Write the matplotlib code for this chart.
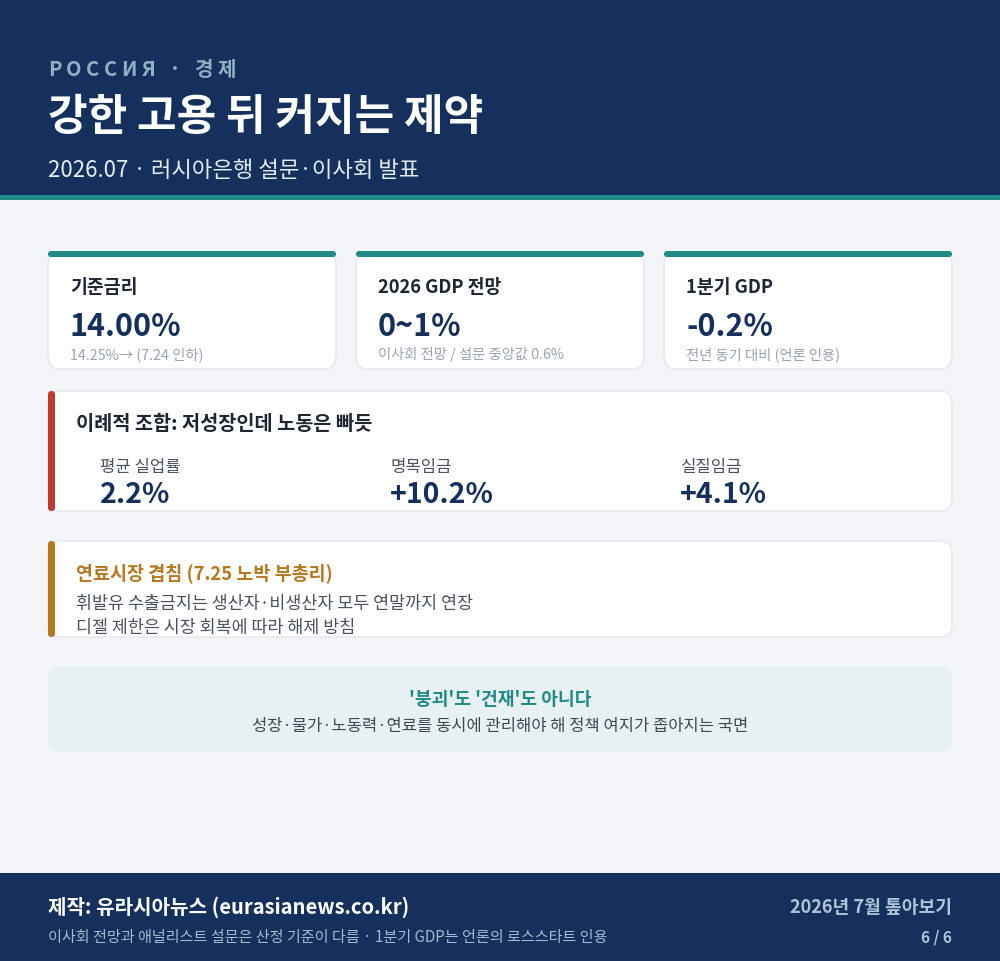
import matplotlib
matplotlib.use("Agg")
import matplotlib.pyplot as plt
from matplotlib.patches import FancyBboxPatch, Rectangle

plt.rcParams['font.family'] = ['Noto Sans CJK KR', 'DejaVu Sans']

# 데이터
kicker = "РОССИЯ · 경제"
title = "강한 고용 뒤 커지는 제약"
subtitle = "2026.07 · 러시아은행 설문·이사회 발표"

kpi_labels = ["기준금리", "2026 GDP 전망", "1분기 GDP"]
kpi_values = ["14.00%", "0~1%", "-0.2%"]
kpi_notes = ["14.25%→ (7.24 인하)", "이사회 전망 / 설문 중앙값 0.6%", "전년 동기 대비 (언론 인용)"]

labor_title = "이례적 조합: 저성장인데 노동은 빠듯"
labor_labels = ["평균 실업률", "명목임금", "실질임금"]
labor_values = ["2.2%", "+10.2%", "+4.1%"]

fuel_title = "연료시장 겹침 (7.25 노박 부총리)"
fuel_lines = ["휘발유 수출금지는 생산자·비생산자 모두 연말까지 연장",
              "디젤 제한은 시장 회복에 따라 해제 방침"]

callout_title = "'붕괴'도 '건재'도 아니다"
callout_text = "성장·물가·노동력·연료를 동시에 관리해야 해 정책 여지가 좁아지는 국면"

footer_left = "제작: 유라시아뉴스 (eurasianews.co.kr)"
footer_note = "이사회 전망과 애널리스트 설문은 산정 기준이 다름 · 1분기 GDP는 언론의 로스스타트 인용"
footer_right = "2026년 7월 톺아보기"
footer_page = "6 / 6"

# 색상
NAVY = "#15305c"
TEAL = "#1f8a87"
BG = "#f3f5f9"
INK = "#1e2533"
GREY = "#9aa3b2"
BODY = "#4a5260"

W, H = 1000, 962
DY = 2.5  # 글자 세로 보정
fig = plt.figure(figsize=(W / 100, H / 100), dpi=100)
ax = fig.add_axes([0, 0, 1, 1])
ax.set_xlim(0, W)
ax.set_ylim(H, 0)
ax.axis('off')
fig.patch.set_facecolor(BG)


def box(x, y, w, h, fc, ec='none', r=10, lw=1, z=1):
    p = FancyBboxPatch((x, y), w, h, boxstyle=f"round,pad=0,rounding_size={r}",
                       fc=fc, ec=ec, lw=lw, zorder=z)
    ax.add_patch(p)


def txt(x, y, s, **kw):
    kw.setdefault('va', 'center')
    kw.setdefault('ha', 'left')
    kw.setdefault('zorder', 4)
    return ax.text(x, y + DY, s, **kw)


# 헤더
ax.add_patch(Rectangle((0, 0), W, 197, fc=NAVY, ec='none', zorder=1))
ax.add_patch(Rectangle((0, 196), W, 5, fc=TEAL, ec='none', zorder=1))

fig.canvas.draw()
renderer = fig.canvas.get_renderer()
x = 48
for ch in kicker:
    t = txt(x, 67, ch, fontsize=14.5, fontweight='bold', color="#8fb0c2")
    bb = t.get_window_extent(renderer)
    x += bb.width + 4.5

txt(48, 115, title, fontsize=31, fontweight='bold', color='white')
txt(48, 168, subtitle, fontsize=16, fontweight='medium', color='#e6ecf4')

# KPI 카드
card_x = [48, 356, 664]
for i in range(3):
    cx = card_x[i]
    box(cx, 253, 288, 117, 'white', ec='#e3e7ee', r=12, z=2)
    box(cx, 252, 288, 6, TEAL, r=3, z=3)
    txt(cx + 22, 285, kpi_labels[i], fontsize=13.2, fontweight='bold', color=INK)
    txt(cx + 22, 325, kpi_values[i], fontsize=22, fontweight='bold', color=NAVY)
    txt(cx + 22, 352, kpi_notes[i], fontsize=10.3, color=GREY)

# 노동 카드
box(48, 392, 904, 120, 'white', ec='#e3e7ee', r=12, z=2)
box(48, 392, 7, 120, '#c0392b', r=3.5, z=3)
txt(76, 422, labor_title, fontsize=14.2, fontweight='bold', color=INK)
stat_x = [100, 390, 680]
for i in range(3):
    txt(stat_x[i], 465, labor_labels[i], fontsize=12, color=BODY)
    txt(stat_x[i], 493, labor_values[i], fontsize=20.5, fontweight='bold', color=NAVY)

# 연료 카드
box(48, 542, 904, 96, 'white', ec='#e3e7ee', r=12, z=2)
box(48, 542, 7, 96, '#b7791f', r=3.5, z=3)
txt(76, 571, fuel_title, fontsize=13.3, fontweight='bold', color='#b7791f')
for j, line in enumerate(fuel_lines):
    txt(76, 602 + 24 * j, line, fontsize=12.5, color=BODY)

# 결론 박스
box(48, 668, 904, 85, '#e8f1f2', r=12, z=2)
txt(500, 697, callout_title, fontsize=13.1, fontweight='bold', color=TEAL, ha='center')
txt(500, 724, callout_text, fontsize=11.9, color='#3f4755', ha='center')

# 푸터
ax.add_patch(Rectangle((0, 874), W, H - 874, fc=NAVY, ec='none', zorder=1))
txt(48, 905, footer_left, fontsize=14.5, fontweight='bold', color='white')
txt(48, 935, footer_note, fontsize=10.9, color='#a9b8cc')
txt(952, 905, footer_right, fontsize=13.1, fontweight='bold', color='#aec3d8', ha='right')
txt(952, 935, footer_page, fontsize=11, fontweight='bold', color='#aec3d8', ha='right')

fig.savefig("out.png", dpi=100, facecolor=BG)
